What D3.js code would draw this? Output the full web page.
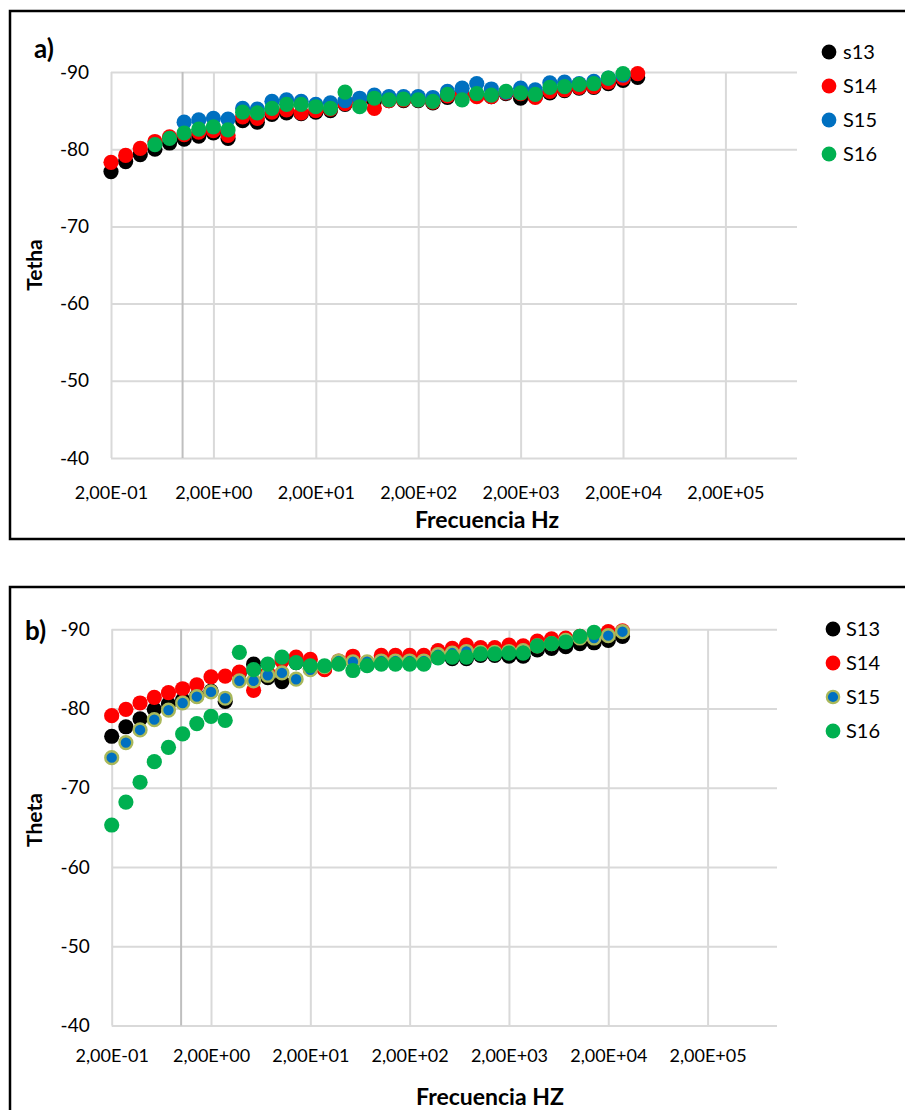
<!DOCTYPE html>
<html>
<head>
<meta charset="utf-8">
<script src="https://cdn.jsdelivr.net/npm/d3@7"></script>
<style>
  body { margin: 0; background: #fff; }
  svg { display: block; }
  text { font-family: Lato, "Noto Sans", sans-serif; fill: #000; }
</style>
</head>
<body>
<script>
// Measurement frequencies (Hz), seven per decade
const freqHz = [0.2, 0.278, 0.386, 0.537, 0.746, 1.036, 1.439, 2.0, 2.78, 3.86, 5.37, 7.46,
  10.36, 14.39, 20, 27.8, 38.6, 53.7, 74.6, 103.6, 143.9, 200, 278, 386, 537, 746,
  1036, 1439, 2000, 2780, 3860, 5370, 7460, 10360, 14390, 20000, 27800];

const xTickValues = [0.2, 2, 20, 200, 2000, 20000, 200000];
const xTickLabels = ["2,00E-01", "2,00E+00", "2,00E+01", "2,00E+02", "2,00E+03", "2,00E+04", "2,00E+05"];
const yTickValues = [-90, -80, -70, -60, -50, -40];

// Panel a) phase angle
const namesA = ["s13", "S14", "S15", "S16"];
const a_S13 = [-77.1, -78.4, -79.3, -80.0, -80.8, -81.3, -81.7, -82.1, -81.4, -83.7, -83.5, -84.5,
  -84.7, -84.6, -84.8, -85.0, -85.8, -86.4, -86.2, -86.3, -86.3, -86.3, -86.0, -86.7, -87.0, -87.0,
  -86.8, -87.2, -86.6, -86.8, -87.3, -87.6, -87.9, -88.0, -88.5, -88.9, -89.3];
const a_S14 = [-78.3, -79.2, -80.1, -81.0, -81.6, -81.9, -82.2, -82.4, -81.8, -84.2, -84.0, -84.8,
  -85.1, -84.7, -85.0, -85.2, -85.9, -86.4, -85.3, -86.3, -86.4, -86.4, -86.1, -86.9, -87.1, -86.8,
  -86.8, -87.3, -87.2, -86.7, -87.5, -87.7, -88.0, -88.1, -88.7, -89.2, -89.8];
const a_S15 = [null, null, null, null, null, -83.5, -83.8, -84.0, -83.9, -85.3, -85.2, -86.2,
  -86.4, -86.2, -85.8, -86.0, -86.3, -86.6, -87.0, -86.8, -86.8, -86.8, -86.7, -87.5, -87.9, -88.5,
  -87.8, -87.4, -87.9, -87.7, -88.6, -88.7, -88.5, -88.8, -89.2, -89.6, null];
const a_S16 = [null, null, null, -80.6, -81.4, -82.1, -82.6, -82.9, -82.5, -84.8, -84.7, -85.3,
  -85.8, -85.8, -85.5, -85.3, -87.4, -85.5, -86.6, -86.4, -86.5, -86.4, -86.2, -87.1, -86.4, -87.2,
  -87.0, -87.5, -87.3, -87.1, -88.0, -88.1, -88.4, -88.5, -89.2, -89.8, null];

// Panel b) phase angle
const namesB = ["S13", "S14", "S15", "S16"];
const b_S13 = [-76.5, -77.7, -78.7, -79.9, -80.6, -81.1, -81.6, -82.2, -80.9, -84.5, -85.6, -83.9,
  -83.4, -85.8, -85.0, -85.0, -85.8, -86.0, -85.5, -85.8, -85.8, -85.8, -85.8, -86.5, -86.3, -86.3,
  -86.7, -86.7, -86.6, -86.6, -87.4, -87.6, -87.8, -88.2, -88.3, -88.6, -89.1];
const b_S14 = [-79.1, -79.9, -80.7, -81.4, -82.0, -82.5, -83.0, -84.0, -84.1, -84.6, -82.3, -84.5,
  -86.0, -86.5, -86.2, -84.9, -86.0, -86.6, -85.8, -86.7, -86.7, -86.7, -86.7, -87.3, -87.6, -88.0,
  -87.7, -87.7, -88.0, -87.9, -88.5, -88.8, -88.9, -89.1, -89.3, -89.7, -89.8];
const b_S15 = [-73.8, -75.7, -77.3, -78.6, -79.8, -80.7, -81.5, -82.1, -81.3, -83.5, -83.5, -84.2,
  -84.5, -83.7, -84.9, -85.3, -86.0, -85.9, -85.9, -86.0, -86.0, -86.0, -86.0, -86.8, -87.0, -87.2,
  -87.1, -87.1, -87.2, -87.3, -87.9, -88.2, -88.6, -88.9, -88.9, -89.2, -89.7];
const b_S16 = [-65.3, -68.2, -70.7, -73.3, -75.1, -76.8, -78.1, -79.0, -78.5, -87.1, -84.9, -85.6,
  -86.5, -85.8, -85.4, -85.4, -85.6, -84.8, -85.4, -85.6, -85.6, -85.6, -85.6, -86.4, -86.5, -86.5,
  -86.9, -86.9, -87.0, -87.0, -87.9, -88.2, -88.4, -89.1, -89.6, null, null];

const seriesColors = ["#000000", "#ff0000", "#0070c0", "#00b050"];

const W = 905, H = 1110;
const svg = d3.select("body").append("svg").attr("width", W).attr("height", H);

const panels = [
  {
    box: { x: 10, y: 11, w: 905, h: 528 },
    plot: { left: 111, right: 797, top: 72, bottom: 458 },
    tag: { text: "a)", x: 34, y: 58 },
    yTitle: { text: "Tetha", x: 42, y: 265 },
    xTitle: { text: "Frecuencia Hz", x: 487, y: 528 },
    xTickY: 499,
    legend: { x: 829, y: 52, dy: 34, textX: 843 },
    names: namesA,
    values: [a_S13, a_S14, a_S15, a_S16],
    ringS15: false
  },
  {
    box: { x: 10, y: 587, w: 905, h: 540 },
    plot: { left: 111.7, right: 777, top: 629.3, bottom: 1025.5 },
    tag: { text: "b)", x: 25, y: 640 },
    yTitle: { text: "Theta", x: 42, y: 820 },
    xTitle: { text: "Frecuencia HZ", x: 490, y: 1105 },
    xTickY: 1062,
    legend: { x: 833, y: 629, dy: 34, textX: 846 },
    names: namesB,
    values: [b_S13, b_S14, b_S15, b_S16],
    ringS15: true
  }
];

panels.forEach(p => {
  const g = svg.append("g");

  // frame around the chart
  g.append("rect")
    .attr("x", p.box.x).attr("y", p.box.y)
    .attr("width", p.box.w).attr("height", p.box.h)
    .attr("fill", "none").attr("stroke", "#000").attr("stroke-width", 2.5);

  const x = d3.scaleLog().domain([0.2, 1e6]).range([p.plot.left, p.plot.right]);
  const y = d3.scaleLinear().domain([-40, -90]).range([p.plot.bottom, p.plot.top]);
  const pw = p.plot.right - p.plot.left;
  const ph = p.plot.bottom - p.plot.top;

  // horizontal gridlines + value labels
  const yAxis = g.append("g")
    .attr("transform", `translate(${p.plot.left},0)`)
    .call(d3.axisLeft(y).tickValues(yTickValues).tickSize(-pw).tickPadding(22)
      .tickFormat(d => String(d)));
  yAxis.select(".domain").remove();
  yAxis.selectAll("line").attr("stroke", "#d9d9d9").attr("stroke-width", 2);
  yAxis.selectAll("text").attr("font-size", 19).style("font-family", "Lato, 'Noto Sans', sans-serif");

  // vertical gridlines
  const xAxis = g.append("g")
    .attr("transform", `translate(0,${p.plot.bottom})`)
    .call(d3.axisBottom(x).tickValues(xTickValues).tickSize(-ph).tickPadding(0)
      .tickFormat((d, i) => xTickLabels[i]));
  xAxis.select(".domain").remove();
  xAxis.selectAll("line").attr("stroke", "#d9d9d9").attr("stroke-width", 2);
  xAxis.selectAll("text")
    .attr("y", p.xTickY - p.plot.bottom).attr("dy", "0")
    .attr("font-size", 18).style("font-family", "Lato, 'Noto Sans', sans-serif");

  // reference line at 1 Hz
  g.append("line")
    .attr("x1", x(1)).attr("x2", x(1))
    .attr("y1", p.plot.top).attr("y2", p.plot.bottom)
    .attr("stroke", "#bfbfbf").attr("stroke-width", 2);

  // markers, one layer per series
  p.values.forEach((vals, si) => {
    const pts = freqHz.map((f, i) => ({ f, v: vals[i] })).filter(d => d.v !== null);
    const ring = p.ringS15 && si === 2;
    g.append("g").selectAll("circle").data(pts).join("circle")
      .attr("cx", d => x(d.f))
      .attr("cy", d => y(d.v))
      .attr("r", ring ? 6.4 : 7.6)
      .attr("fill", seriesColors[si])
      .attr("stroke", ring ? "#a9b85a" : "none")
      .attr("stroke-width", ring ? 2.4 : 0);
  });

  // legend
  p.names.forEach((name, si) => {
    const ly = p.legend.y + si * p.legend.dy;
    const ring = p.ringS15 && si === 2;
    g.append("circle")
      .attr("cx", p.legend.x).attr("cy", ly)
      .attr("r", ring ? 6.2 : 7.4)
      .attr("fill", seriesColors[si])
      .attr("stroke", ring ? "#a9b85a" : "none")
      .attr("stroke-width", ring ? 2.2 : 0);
    g.append("text")
      .attr("x", p.legend.textX).attr("y", ly)
      .attr("dy", "0.36em")
      .attr("font-size", 20)
      .text(name);
  });

  // panel tag
  g.append("text")
    .attr("x", p.tag.x).attr("y", p.tag.y)
    .attr("font-size", 26).attr("font-weight", "bold")
    .text(p.tag.text);

  // axis titles
  g.append("text")
    .attr("transform", `translate(${p.yTitle.x},${p.yTitle.y}) rotate(-90)`)
    .attr("text-anchor", "middle")
    .attr("font-size", 21).attr("font-weight", "bold")
    .text(p.yTitle.text);

  g.append("text")
    .attr("x", p.xTitle.x).attr("y", p.xTitle.y)
    .attr("text-anchor", "middle")
    .attr("font-size", 23).attr("font-weight", "bold")
    .text(p.xTitle.text);
});
</script>
</body>
</html>
